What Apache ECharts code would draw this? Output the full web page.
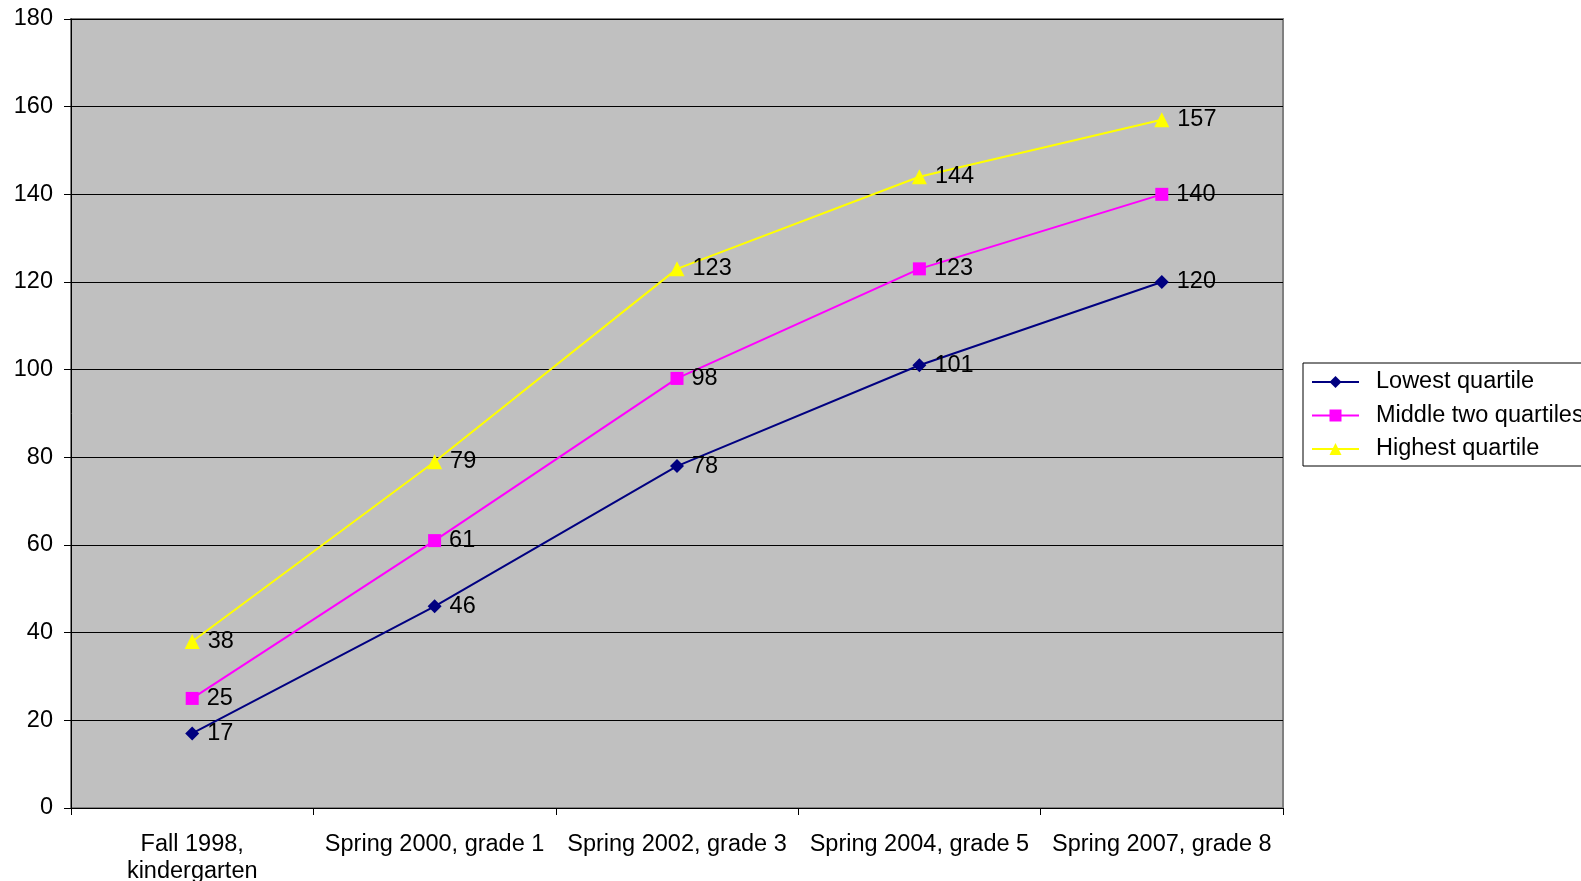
<!DOCTYPE html>
<html>
<head>
<meta charset="utf-8">
<script src="https://cdn.jsdelivr.net/npm/echarts@6/dist/echarts.min.js"></script>
<style>
html,body{margin:0;padding:0;background:#fff;}
#c{width:1581px;height:881px;}
</style>
</head>
<body>
<div id="c"></div>
<script>
const categories = ['Fall 1998,\nkindergarten', 'Spring 2000, grade 1', 'Spring 2002, grade 3', 'Spring 2004, grade 5', 'Spring 2007, grade 8'];
const seriesNames = ['Lowest quartile', 'Middle two quartiles', 'Highest quartile'];
const lowest = [17, 46, 78, 101, 120];
const middle = [25, 61, 98, 123, 140];
const highest = [38, 79, 123, 144, 157];

const FONT = 'Liberation Sans, Arial, sans-serif';
const FS = 23.5;
const chart = echarts.init(document.getElementById('c'));
function mk(name, data, color, symbol, size) {
  return {
    name: name, type: 'line', data: data,
    symbol: symbol, symbolSize: size,
    lineStyle: { color: color, width: 2 },
    itemStyle: { color: color },
    label: { show: true, position: 'right', distance: 8, color: '#000', fontSize: FS, fontFamily: FONT },
    emphasis: { disabled: true },
    animation: false
  };
}
chart.setOption({
  backgroundColor: '#fff',
  animation: false,
  grid: { left: 71, right: 298, top: 19, bottom: 73, outerBoundsMode: 'none', containLabel: false, show: true, backgroundColor: '#C0C0C0', borderColor: '#808080', borderWidth: 2 },
  legend: {
    orient: 'vertical', left: 1303, top: 363,
    data: seriesNames,
    borderColor: '#000', borderWidth: 1,
    padding: [7, 60, 5, 8],
    itemWidth: 47, itemHeight: 15, itemGap: 9.5,
    textStyle: { fontSize: FS, fontFamily: FONT, color: '#000', padding: [0, 0, 0, 12] }
  },
  xAxis: {
    type: 'category', data: categories, boundaryGap: true,
    axisLine: { lineStyle: { color: '#000', width: 1 } },
    axisTick: { show: true, length: 7, lineStyle: { color: '#000' } },
    axisLabel: { fontSize: FS, fontFamily: FONT, color: '#000', margin: 23, interval: 0, lineHeight: 27 }
  },
  yAxis: {
    type: 'value', min: 0, max: 180, interval: 20,
    axisLine: { show: true, lineStyle: { color: '#000', width: 1 } },
    axisTick: { show: true, length: 7, lineStyle: { color: '#000' } },
    splitLine: { show: true, lineStyle: { color: '#000', width: 1 } },
    axisLabel: { fontSize: FS, fontFamily: FONT, color: '#000', margin: 18 }
  },
  series: [
    mk(seriesNames[0], lowest, '#000080', 'diamond', 14),
    mk(seriesNames[1], middle, '#FF00FF', 'rect', 13),
    mk(seriesNames[2], highest, '#FFFF00', 'triangle', 15)
  ]
});
</script>
</body>
</html>
